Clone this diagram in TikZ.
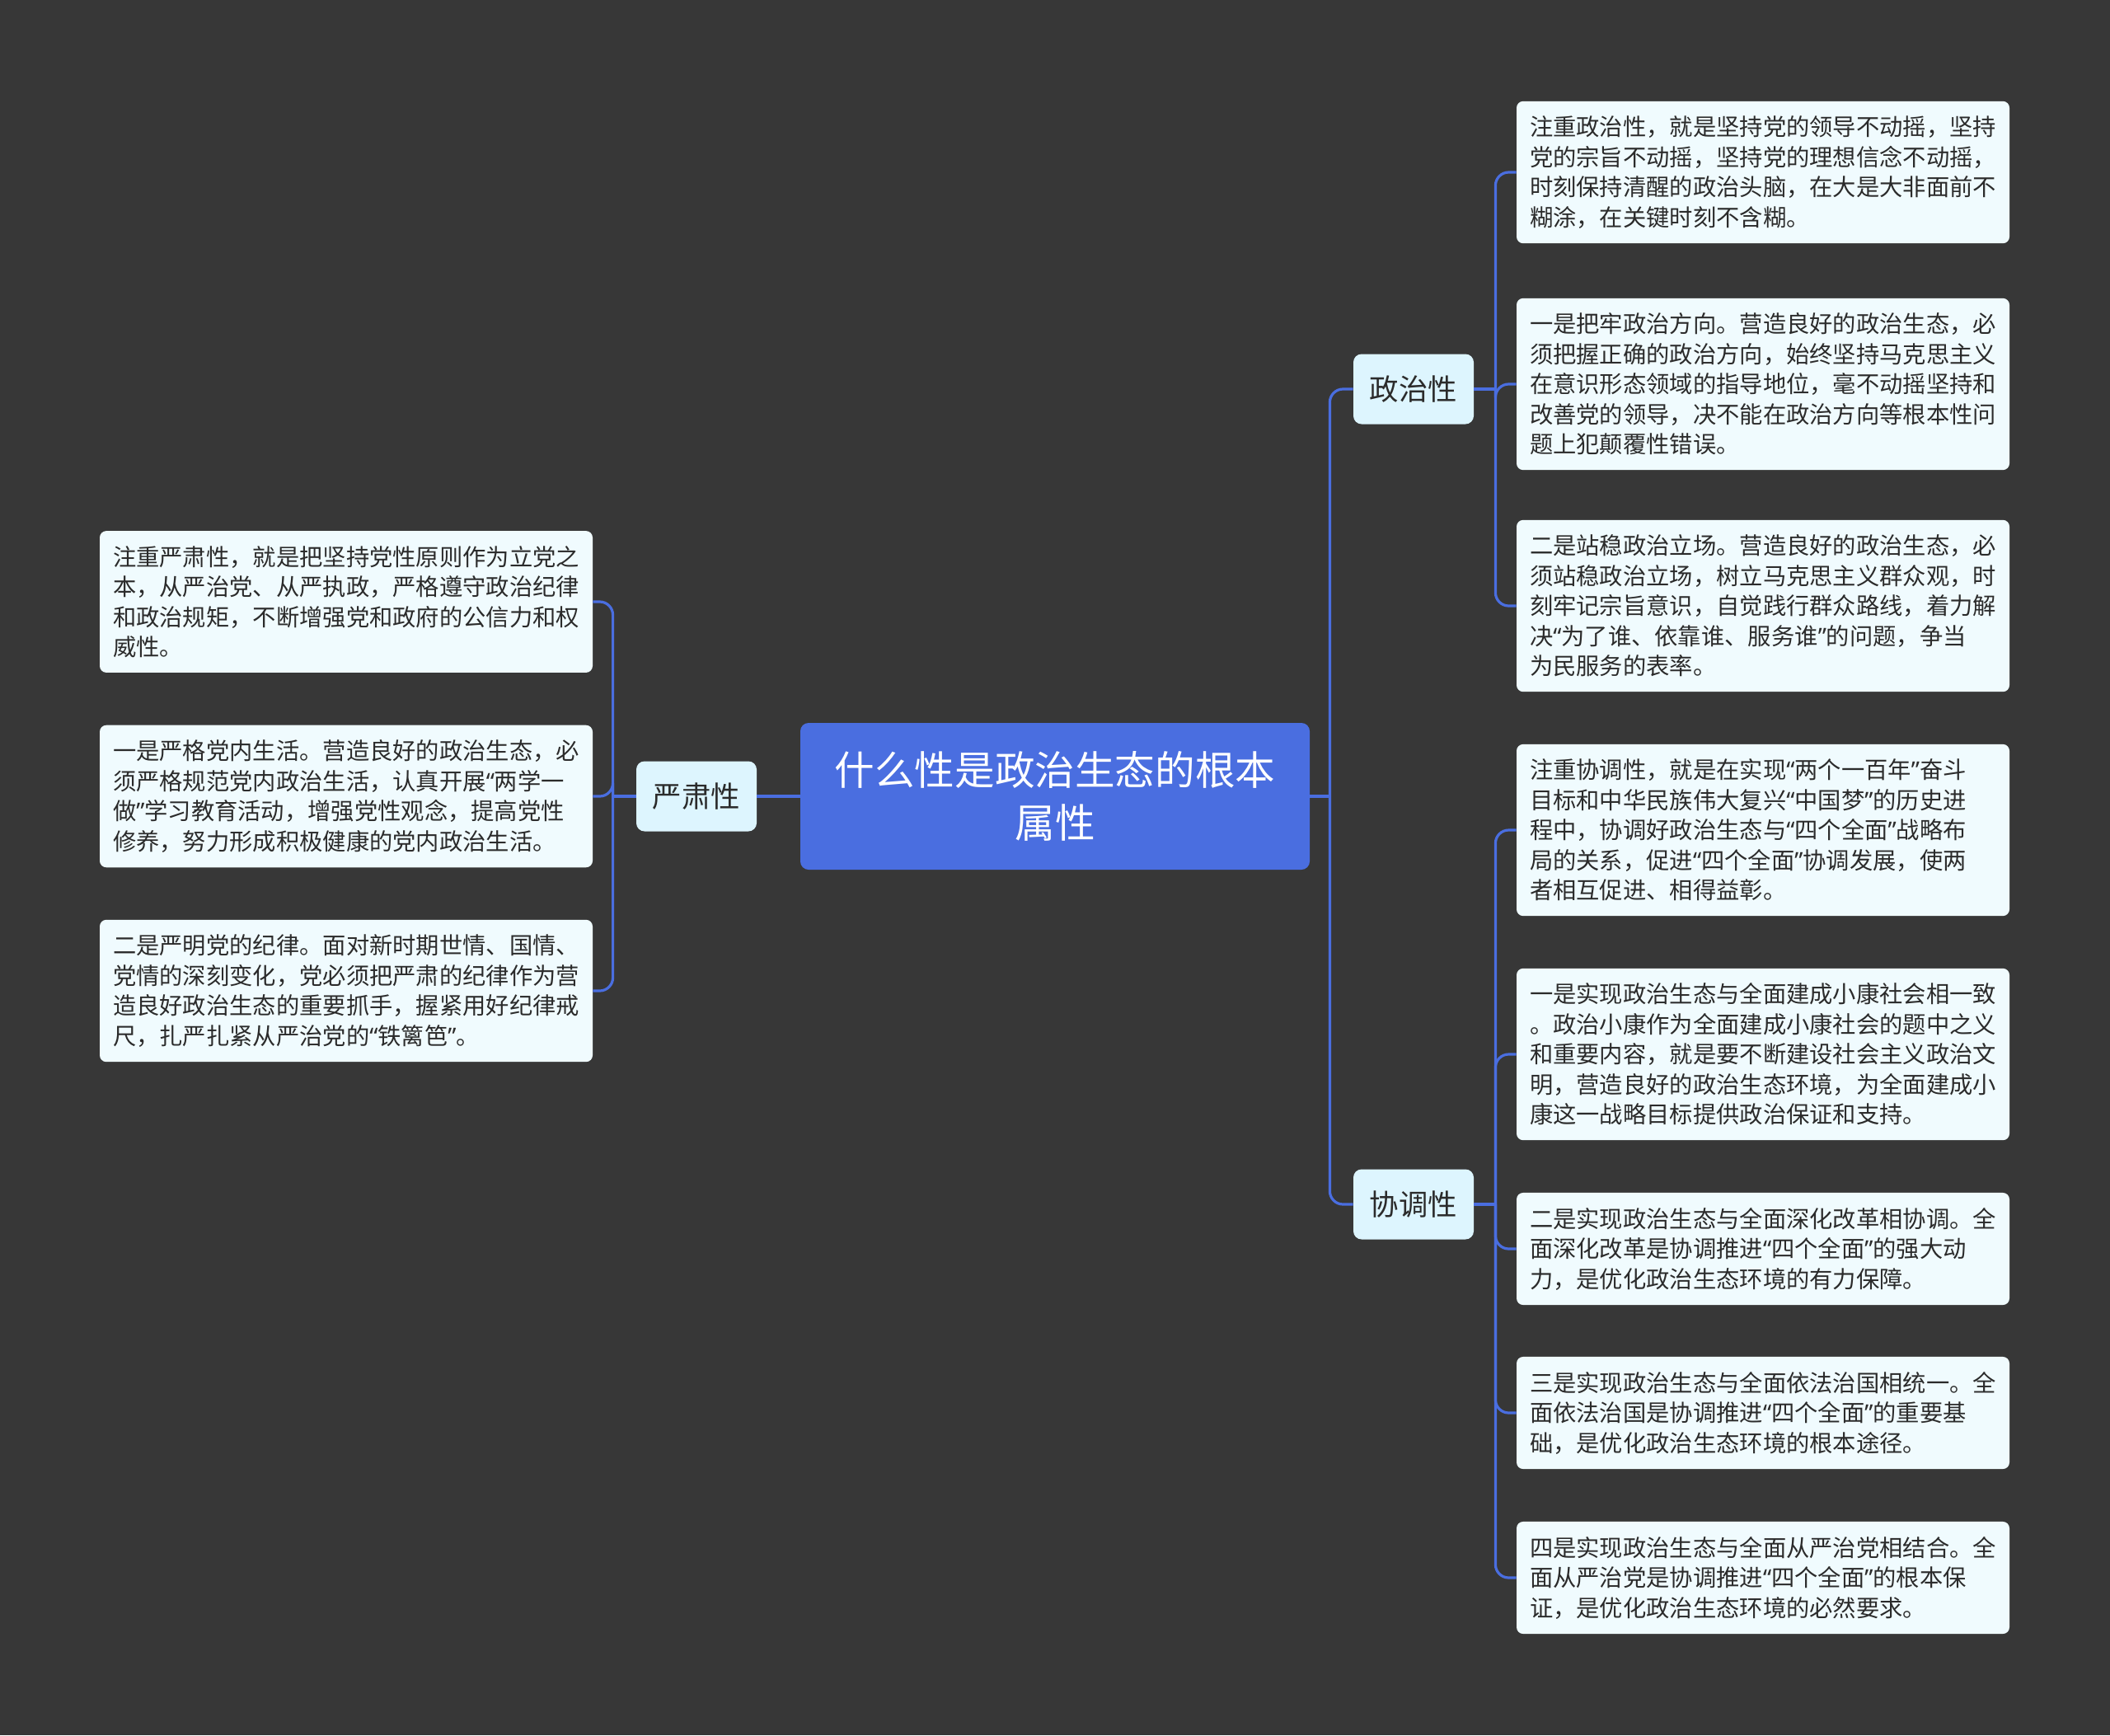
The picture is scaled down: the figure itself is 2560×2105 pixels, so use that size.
\documentclass[tikz,border=0pt]{standalone}
\usepackage{fontspec}
\setmainfont{Noto Sans CJK SC}
\newfontfamily\quotefont{Noto Sans}
\newcommand\oq{{\quotefont “}}
\newcommand\cq{{\quotefont ”}}
\usetikzlibrary{positioning}

\definecolor{bgdark}{HTML}{373737}
\definecolor{rootblue}{HTML}{4A6EE0}
\definecolor{branchfill}{HTML}{DDF5FE}
\definecolor{leaffill}{HTML}{F0FBFE}
\definecolor{inktext}{HTML}{2B2B2B}

\begin{document}
\begin{tikzpicture}[
  x=0.5pt, y=-0.5pt,
  rootbox/.style={fill=rootblue, rounded corners=5pt, text=white,
                  minimum width=309pt, minimum height=89pt, align=center,
                  font=\fontsize{24.3}{31.8}\selectfont},
  branchbox/.style={fill=branchfill, rounded corners=5pt, text=inktext,
                    minimum width=73pt, minimum height=42.5pt,
                    font=\fontsize{17.7}{22}\selectfont},
  leafbox/.style={fill=leaffill, rounded corners=4pt, text=inktext,
                  text width=283pt, inner xsep=8pt, inner ysep=9pt,
                  align=left, font=\fontsize{14.15}{18.25}\selectfont},
  link/.style={draw=rootblue, line width=1.6pt, rounded corners=8pt}
]
  \fill[bgdark] (0,0) rectangle (2560,2105);

  \node[rootbox] (root) at (1280,966) {什么性是政治生态的根本\\属性};

  \node[branchbox] (zz) at (1715,472)  {政治性};
  \node[branchbox] (xt) at (1715,1461) {协调性};
  \node[branchbox] (ys) at (845,966)   {严肃性};

  % 政治性
  \node[leafbox] (z1) at (2139,209) {注重政治性，就是坚持党的领导不动摇，坚持\\党的宗旨不动摇，坚持党的理想信念不动摇，\\时刻保持清醒的政治头脑，在大是大非面前不\\糊涂，在关键时刻不含糊。};
  \node[leafbox] (z2) at (2139,466) {一是把牢政治方向。营造良好的政治生态，必\\须把握正确的政治方向，始终坚持马克思主义\\在意识形态领域的指导地位，毫不动摇坚持和\\改善党的领导，决不能在政治方向等根本性问\\题上犯颠覆性错误。};
  \node[leafbox] (z3) at (2139,735) {二是站稳政治立场。营造良好的政治生态，必\\须站稳政治立场，树立马克思主义群众观，时\\刻牢记宗旨意识，自觉践行群众路线，着力解\\决\oq 为了谁、依靠谁、服务谁\cq 的问题，争当\\为民服务的表率。};

  % 协调性
  \node[leafbox] (x1) at (2139,1007) {注重协调性，就是在实现\oq 两个一百年\cq 奋斗\\目标和中华民族伟大复兴\oq 中国梦\cq 的历史进\\程中，协调好政治生态与\oq 四个全面\cq 战略布\\局的关系，促进\oq 四个全面\cq 协调发展，使两\\者相互促进、相得益彰。};
  \node[leafbox] (x2) at (2139,1279) {一是实现政治生态与全面建成小康社会相一致\\。政治小康作为全面建成小康社会的题中之义\\和重要内容，就是要不断建设社会主义政治文\\明，营造良好的政治生态环境，为全面建成小\\康这一战略目标提供政治保证和支持。};
  \node[leafbox] (x3) at (2139,1515) {二是实现政治生态与全面深化改革相协调。全\\面深化改革是协调推进\oq 四个全面\cq 的强大动\\力，是优化政治生态环境的有力保障。};
  \node[leafbox] (x4) at (2139,1714) {三是实现政治生态与全面依法治国相统一。全\\面依法治国是协调推进\oq 四个全面\cq 的重要基\\础，是优化政治生态环境的根本途径。};
  \node[leafbox] (x5) at (2139,1914) {四是实现政治生态与全面从严治党相结合。全\\面从严治党是协调推进\oq 四个全面\cq 的根本保\\证，是优化政治生态环境的必然要求。};

  % 严肃性
  \node[leafbox] (y1) at (420,730)  {注重严肃性，就是把坚持党性原则作为立党之\\本，从严治党、从严执政，严格遵守政治纪律\\和政治规矩，不断增强党和政府的公信力和权\\威性。};
  \node[leafbox] (y2) at (420,966)  {一是严格党内生活。营造良好的政治生态，必\\须严格规范党内政治生活，认真开展\oq 两学一\\做\cq 学习教育活动，增强党性观念，提高党性\\修养，努力形成积极健康的党内政治生活。};
  \node[leafbox] (y3) at (420,1202) {二是严明党的纪律。面对新时期世情、国情、\\党情的深刻变化，党必须把严肃的纪律作为营\\造良好政治生态的重要抓手，握紧用好纪律戒\\尺，扎严扎紧从严治党的\oq 铁篱笆\cq 。};

  % connectors
  \path (root.east) ++(24,0) coordinate (rj);
  \draw[link] (root.east) -- (rj);
  \draw[link] (rj) |- (zz.west);
  \draw[link] (rj) |- (xt.west);
  \draw[link] (root.west) -- (ys.east);

  \path (zz.east) ++(26,0) coordinate (zj);
  \draw[link] (zz.east) -- (zj);
  \foreach \i in {1,2,3} \draw[link] (zj) |- (z\i.west);

  \path (xt.east) ++(26,0) coordinate (xj);
  \draw[link] (xt.east) -- (xj);
  \foreach \i in {1,...,5} \draw[link] (xj) |- (x\i.west);

  \path (ys.west) ++(-28,0) coordinate (yj);
  \draw[link] (ys.west) -- (yj);
  \foreach \i in {1,2,3} \draw[link] (yj) |- (y\i.east);
\end{tikzpicture}
\end{document}
